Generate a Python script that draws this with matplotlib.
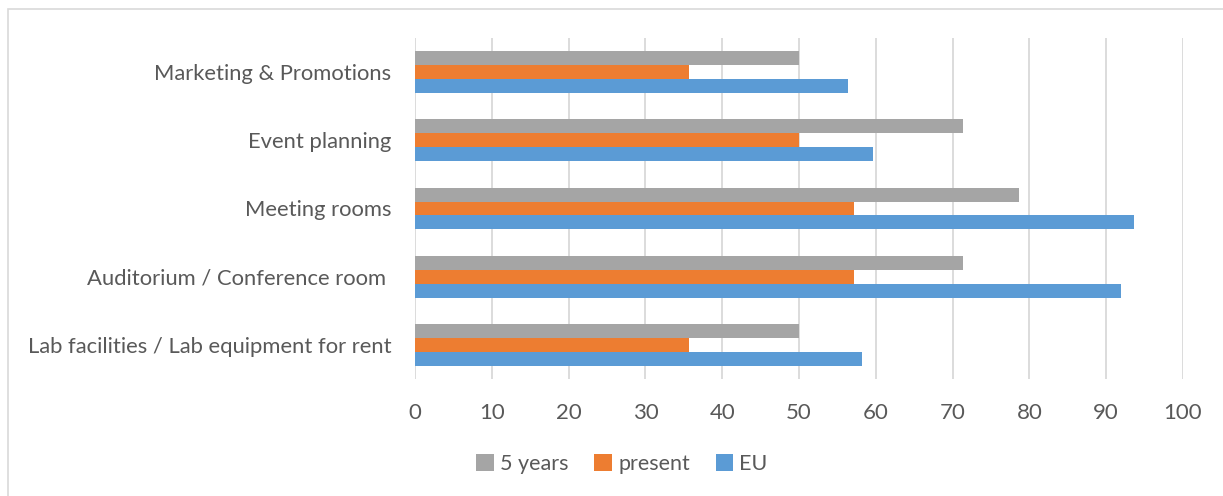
import numpy as np
import matplotlib
matplotlib.use("Agg")
import matplotlib.pyplot as plt
from matplotlib.patches import Rectangle

categories = ["Lab facilities / Lab equipment for rent",
              "Auditorium / Conference room ",
              "Meeting rooms",
              "Event planning",
              "Marketing & Promotions"]
five_years = [50, 71.4, 78.6, 71.4, 50]
present = [35.7, 57.1, 57.1, 50, 35.7]
eu = [58.2, 91.9, 93.6, 59.7, 56.4]
x_ticks = [0, 10, 20, 30, 40, 50, 60, 70, 80, 90, 100]

TEXT = "#595959"
GRID = "#d9d9d9"

plt.rcParams['font.family'] = ['Lato', 'DejaVu Sans']

fig = plt.figure(figsize=(12.23, 4.96), dpi=100)
ax = fig.add_axes([415 / 1223, 1 - 379 / 496, 768 / 1223, 341 / 496])

# outer chart frame, cut off on the right and bottom
fig.patches.append(Rectangle((8 / 1223, -0.1), 1.2, 1 - 9 / 496 + 0.1,
                             transform=fig.transFigure, fill=False,
                             edgecolor=GRID, linewidth=1.2))

y = np.arange(len(categories))
h = 0.205
ax.barh(y + h, five_years, height=h, color="#a5a5a5", label="5 years", zorder=3)
ax.barh(y, present, height=h, color="#ed7d31", label="present", zorder=3)
ax.barh(y - h, eu, height=h, color="#5b9bd5", label="EU", zorder=3)

ax.set_xlim(0, 100)
ax.set_ylim(-0.5, len(categories) - 0.5)
ax.set_xticks(x_ticks)
ax.set_yticks(y)
ax.set_yticklabels(categories)
ax.tick_params(axis="y", length=0, pad=17, labelsize=15.8, labelcolor=TEXT)
ax.tick_params(axis="x", length=0, pad=17, labelsize=16, labelcolor=TEXT)
ax.grid(axis="x", color=GRID, linewidth=1.3, zorder=0)
for s in ax.spines.values():
    s.set_visible(False)

ax.legend(loc="center", bbox_to_anchor=(622 / 1223, 1 - 464 / 496),
          bbox_transform=fig.transFigure, ncol=3, frameon=False,
          fontsize=15.5, labelcolor=TEXT, handlelength=0.8, handleheight=0.8,
          handletextpad=0.3, columnspacing=1.2)

fig.savefig("out.png", dpi=100)
